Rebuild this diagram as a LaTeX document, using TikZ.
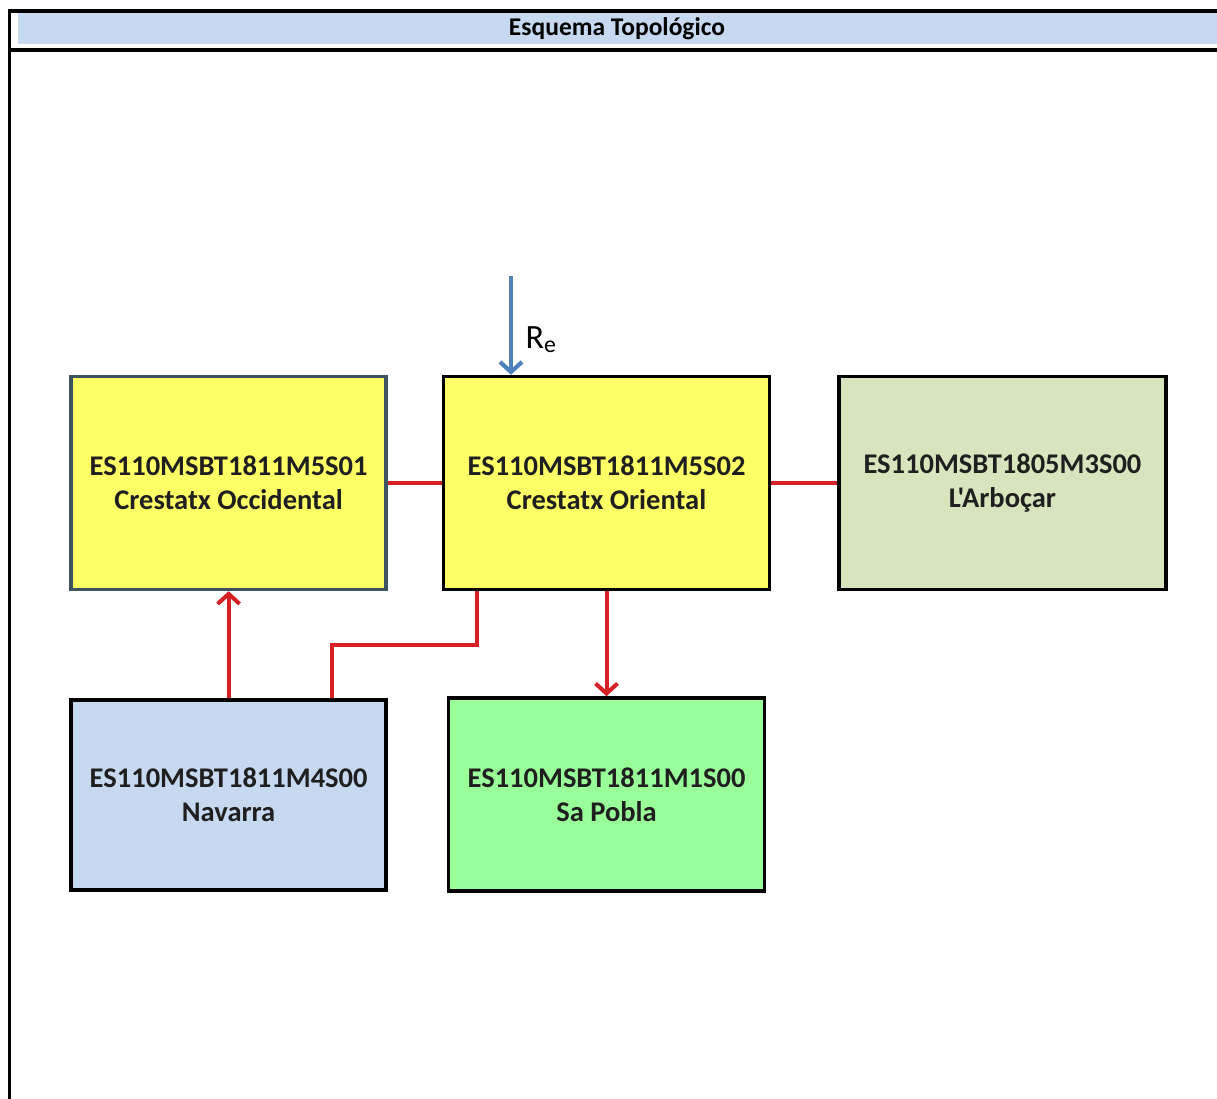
\documentclass[tikz,border=0pt]{standalone}
\usepackage{fontspec}
\setmainfont{Carlito}[Ligatures=TeXOff]
\usepackage{xcolor}
\usetikzlibrary{arrows.meta,positioning}

\definecolor{hdrblue}{RGB}{198,217,240}
\definecolor{boxyellow}{RGB}{255,255,102}
\definecolor{boxolive}{RGB}{215,228,189}
\definecolor{boxblue}{RGB}{198,217,241}
\definecolor{boxgreen}{RGB}{153,255,153}
\definecolor{slateedge}{RGB}{60,84,98}
\definecolor{linkred}{RGB}{214,32,38}
\definecolor{inblue}{RGB}{79,129,189}

\begin{document}
\begin{tikzpicture}[
  x=1pt, y=-1pt,
  font=\fontsize{28.5}{34}\selectfont\bfseries,
  box/.style={draw,line width=3.4pt,fill=#1,minimum width=316pt,minimum height=213pt,align=center,text=black!88,inner sep=0pt},
  link/.style={draw=linkred,line width=4pt},
  flow/.style={link,-{Straight Barb[length=10pt,width=22pt]}},
  inflow/.style={draw=inblue,line width=4.2pt,-{Straight Barb[length=10pt,width=22pt]}},
]
\useasboundingbox (0,0) rectangle (1217,1099);
% header band and frame
\fill[hdrblue] (18,12) rectangle (1217,44);
\draw[line width=3.2pt] (9.5,1099) -- (9.5,11) -- (1217,11);
\draw[line width=3.4pt] (8,50) -- (1217,50);
\node[font=\fontsize{25.5}{28}\selectfont\bfseries] (title) at (617,29) {Esquema Topológico};

% water bodies
\node[box=boxyellow, minimum width=326pt] (ori) at (606.5,483) {ES110MSBT1811M5S02\\Crestatx Oriental};
\node[box=boxyellow, draw=slateedge, minimum width=315pt, left=54pt of ori] (occ) {ES110MSBT1811M5S01\\Crestatx Occidental};
\node[box=boxolive, minimum width=327pt, right=66pt of ori] (arb) {ES110MSBT1805M3S00\\L'Arboçar};
\node[box=boxblue, minimum width=315pt, minimum height=190pt, below=107pt of occ] (nav) {ES110MSBT1811M4S00\\Navarra};
\node[box=boxgreen, minimum height=193pt, below=105pt of ori] (pob) {ES110MSBT1811M1S00\\Sa Pobla};

% connections
\draw[link] (occ) -- (ori);
\draw[link] (ori) -- (arb);
\draw[flow] (nav) -- (occ);
\draw[flow] (ori) -- (pob);
\draw[link] ([xshift=103pt]nav.north) |- ([xshift=-130pt,yshift=-54pt]ori.south) -- ([xshift=-130pt]ori.south);

% recharge
\coordinate (rtop) at (511,276);
\draw[inflow] (rtop) -- (rtop |- ori.north);
\node[font=\fontsize{34}{38}\selectfont, anchor=west] (rlab) at (522,340) {R\textsubscript{e}};
\end{tikzpicture}
\end{document}
